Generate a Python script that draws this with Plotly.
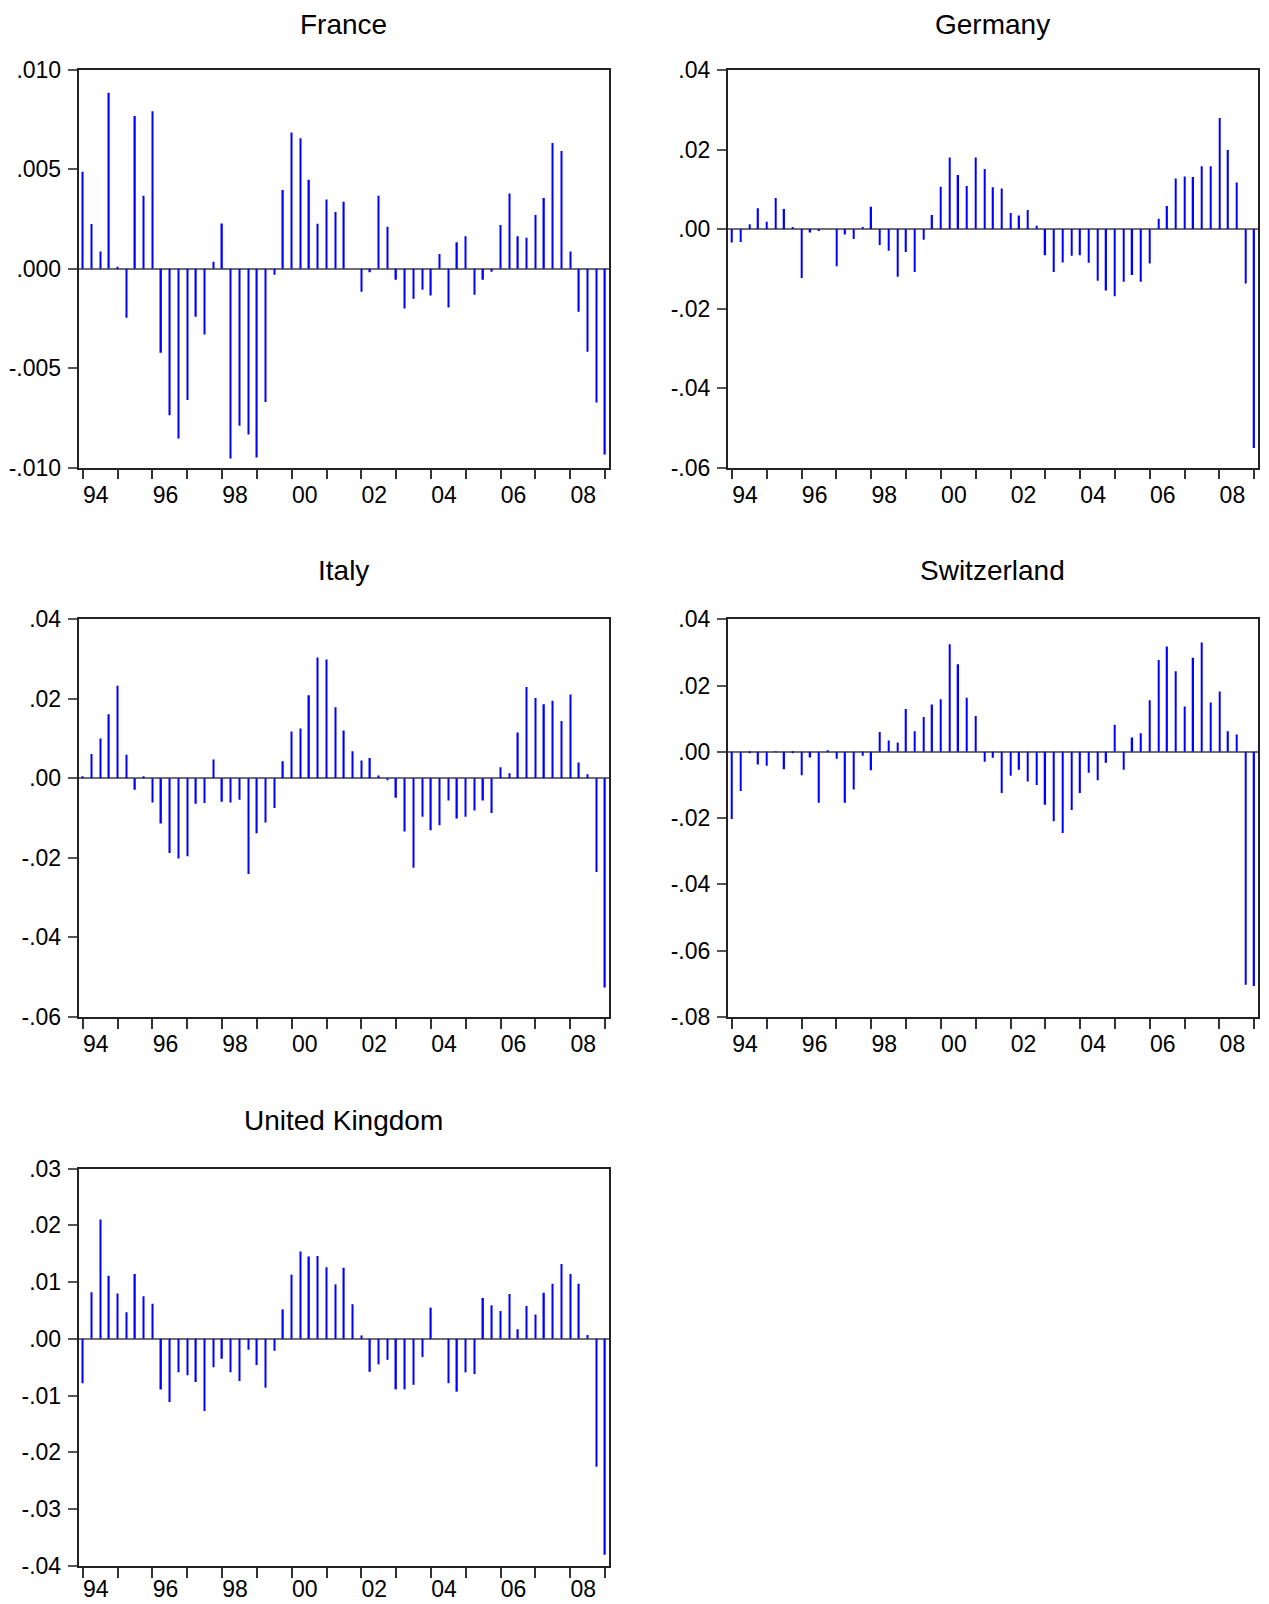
import plotly.graph_objects as go

# quarterly observations 1994Q1 .. 2009Q1
quarters = [1994 + q / 4 for q in range(61)]

france = [0.00488, 0.00225, 0.00087, 0.00886, 0.0001, -0.00247, 0.00769, 0.00367, 0.00792, -0.00423,
          -0.00737, -0.00854, -0.00661, -0.00242, -0.00331, 0.00035, 0.00228, -0.00955, -0.0079, -0.00834,
          -0.0095, -0.0067, -0.0003, 0.00396, 0.00685, 0.00656, 0.00448, 0.00227, 0.00349, 0.00285,
          0.00337, 0.0, -0.00116, -0.00018, 0.00367, 0.00211, -0.00055, -0.002, -0.00151, -0.00106,
          -0.00134, 0.00074, -0.00195, 0.00133, 0.00163, -0.00131, -0.00055, -0.00015, 0.0022, 0.00379,
          0.00163, 0.00156, 0.0027, 0.00356, 0.00633, 0.00592, 0.00087, -0.00216, -0.00418, -0.00673,
          -0.00935]
germany = [-0.0034, -0.0033, 0.0012, 0.0052, 0.0018, 0.0078, 0.005, 0.0003, -0.0123, -0.0009,
           -0.0004, 0.0, -0.0094, -0.0014, -0.0025, 0.0005, 0.0056, -0.004, -0.0055, -0.012,
           -0.0058, -0.0108, -0.0027, 0.0035, 0.0106, 0.018, 0.0136, 0.0108, 0.018, 0.0151,
           0.0105, 0.0102, 0.004, 0.0034, 0.0048, 0.0008, -0.0066, -0.0108, -0.0084, -0.0067,
           -0.0066, -0.0085, -0.013, -0.0155, -0.0169, -0.0133, -0.0116, -0.0133, -0.0087, 0.0026,
           0.0058, 0.0127, 0.0132, 0.0131, 0.0158, 0.0158, 0.0279, 0.0199, 0.0117, -0.0137,
           -0.0551]
italy = [0.0003, 0.0061, 0.010, 0.0161, 0.0233, 0.0059, -0.0029, 0.0003, -0.0061, -0.0114,
         -0.0188, -0.0202, -0.0196, -0.0064, -0.0062, 0.0047, -0.0059, -0.0061, -0.0054, -0.0241,
         -0.0138, -0.0111, -0.0075, 0.0043, 0.0118, 0.0125, 0.0209, 0.0304, 0.0299, 0.0179,
         0.012, 0.0068, 0.0045, 0.0051, 0.0007, -0.0004, -0.0049, -0.0134, -0.0225, -0.0097,
         -0.0131, -0.0118, -0.0056, -0.0101, -0.0097, -0.0081, -0.0056, -0.0087, 0.0028, 0.0013,
         0.0115, 0.023, 0.0202, 0.0186, 0.0195, 0.0144, 0.0211, 0.004, 0.001, -0.0236,
         -0.0526]
switzerland = [-0.0203, -0.0118, -0.0004, -0.0038, -0.0042, -0.0001, -0.0053, -0.0003, -0.0071, -0.0017,
               -0.0154, 0.0005, -0.0021, -0.0154, -0.0114, -0.0012, -0.0056, 0.006, 0.0034, 0.0028,
               0.0129, 0.0062, 0.0105, 0.0143, 0.0159, 0.0325, 0.0264, 0.0163, 0.0108, -0.003,
               -0.0018, -0.0124, -0.0072, -0.0054, -0.009, -0.010, -0.016, -0.021, -0.0245, -0.0176,
               -0.0124, -0.0063, -0.0086, -0.0033, 0.0082, -0.0054, 0.0043, 0.0056, 0.0156, 0.0277,
               0.0318, 0.0243, 0.0137, 0.0284, 0.033, 0.0149, 0.0182, 0.0062, 0.0052, -0.0703,
               -0.0707]
uk = [-0.0078, 0.0082, 0.021, 0.0111, 0.008, 0.0047, 0.0114, 0.0075, 0.0062, -0.0089,
      -0.0111, -0.0059, -0.0064, -0.0076, -0.0127, -0.005, -0.0035, -0.0059, -0.0074, -0.0019,
      -0.0046, -0.0086, -0.0021, 0.0052, 0.0113, 0.0154, 0.0145, 0.0146, 0.0126, 0.0096,
      0.0125, 0.0061, 0.0006, -0.0058, -0.0045, -0.0037, -0.0089, -0.0089, -0.0081, -0.0032,
      0.0055, 0.0, -0.0078, -0.0093, -0.0059, -0.0062, 0.0072, 0.0059, 0.0049, 0.0079,
      0.0017, 0.0058, 0.0043, 0.0081, 0.0097, 0.0132, 0.0114, 0.0097, 0.0007, -0.0225,
      -0.038]

# x tick labels (every year gets a tick, even years a label)
year_ticks = list(range(1994, 2010))
year_labels = [str(y)[2:] if y % 2 == 0 else "" for y in year_ticks]

# y ticks per panel
ticks_france = [-0.010, -0.005, 0.0, 0.005, 0.010]
labels_france = ["-.010", "-.005", ".000", ".005", ".010"]
ticks_ger = [-0.06, -0.04, -0.02, 0.0, 0.02, 0.04]
labels_ger = ["-.06", "-.04", "-.02", ".00", ".02", ".04"]
ticks_swi = [-0.08, -0.06, -0.04, -0.02, 0.0, 0.02, 0.04]
labels_swi = ["-.08", "-.06", "-.04", "-.02", ".00", ".02", ".04"]
ticks_uk = [-0.04, -0.03, -0.02, -0.01, 0.0, 0.01, 0.02, 0.03]
labels_uk = ["-.04", "-.03", "-.02", "-.01", ".00", ".01", ".02", ".03"]

# page body keeps an 8px margin; figure runs to the bottom of the window
PAD = 8
W, H = 1269 - 2 * PAD, 1604 - PAD
FONT = "Liberation Sans, Arial, Helvetica, sans-serif"

# (title, values, yticks, ylabels, left px, top px) in page pixels
panels = [
    ("France", france, ticks_france, labels_france, 78.5, 70),
    ("Germany", germany, ticks_ger, labels_ger, 727.7, 70),
    ("Italy", italy, ticks_ger, labels_ger, 78.5, 619.3),
    ("Switzerland", switzerland, ticks_swi, labels_swi, 727.7, 619.3),
    ("United Kingdom", uk, ticks_uk, labels_uk, 78.5, 1168.5),
]
PW, PH = 530, 397.5

fig = go.Figure()
layout = dict(
    width=W, height=H,
    margin=dict(l=0, r=0, t=0, b=0, autoexpand=False),
    paper_bgcolor="white", plot_bgcolor="white",
    showlegend=False,
    font=dict(family=FONT, color="black"),
    annotations=[],
)

for i, (name, vals, yt, yl, left, top) in enumerate(panels):
    n = "" if i == 0 else str(i + 1)
    left -= PAD
    top -= PAD
    # bottom panel labels pulled up a little so they stay inside the window
    standoff = -8 if name == "United Kingdom" else -4
    # keep the top-row titles fully inside the figure
    title_y = max(top - 48.5, 17)
    fig.add_trace(go.Bar(
        x=quarters, y=vals, width=0.04,
        marker=dict(color="#0000ff", line=dict(width=0)),
        xaxis="x" + n, yaxis="y" + n,
    ))
    layout["xaxis" + n] = dict(
        domain=[left / W, (left + PW) / W],
        anchor="y" + n,
        range=[1993.875, 2009.1],
        tickmode="array", tickvals=year_ticks, ticktext=year_labels,
        ticks="outside", ticklen=10, tickwidth=1.5, tickcolor="#333",
        ticklabelshift=13, ticklabelstandoff=standoff,
        tickfont=dict(size=23, family=FONT),
        showline=True, mirror=True, linecolor="#222", linewidth=1.5,
        showgrid=False, zeroline=False, fixedrange=True, automargin=False,
    )
    layout["yaxis" + n] = dict(
        domain=[1 - (top + PH) / H, 1 - top / H],
        anchor="x" + n,
        range=[yt[0], yt[-1]],
        tickmode="array", tickvals=yt, ticktext=yl,
        ticks="outside", ticklen=9, tickwidth=1.5, tickcolor="#555",
        tickfont=dict(size=23, family=FONT),
        ticklabelstandoff=2,
        showline=True, mirror=True, linecolor="#222", linewidth=1.5,
        showgrid=False, zeroline=True, zerolinecolor="#707070", zerolinewidth=1.5,
        fixedrange=True, automargin=False,
    )
    layout["annotations"].append(dict(
        text=name, xref="paper", yref="paper",
        x=(left + PW / 2) / W, y=1 - title_y / H,
        xanchor="center", yanchor="middle", showarrow=False,
        font=dict(size=28, family=FONT, color="black"),
    ))

fig.update_layout(**layout)
fig.write_html("out.html")
